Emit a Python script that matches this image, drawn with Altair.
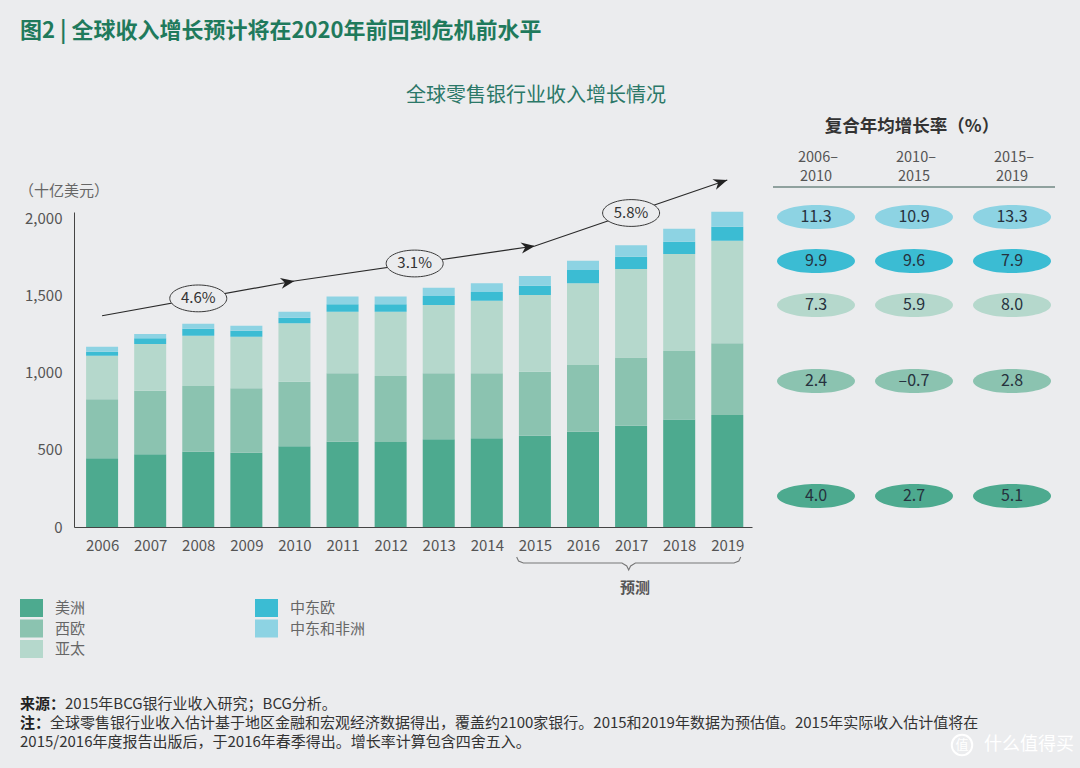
import math
import altair as alt
import pandas as pd

# ---------------- data ----------------
years = list(range(2006, 2020))
regions = ["美洲", "西欧", "亚太", "中东欧", "中东和非洲"]
americas = [445, 471, 488, 481, 523, 552, 550, 568, 574, 591, 617, 656, 697, 725]
w_europe = [382, 412, 425, 417, 418, 443, 428, 427, 421, 415, 432, 441, 443, 465]
asia_pac = [282, 302, 326, 334, 378, 399, 416, 443, 471, 496, 529, 574, 628, 664]
ce_europe = [26, 37, 45, 39, 36, 48, 48, 58, 56, 61, 86, 80, 80, 91]
mea = [32, 28, 33, 33, 39, 50, 50, 54, 56, 63, 61, 73, 84, 97]
series = [americas, w_europe, asia_pac, ce_europe, mea]
colors = ["#4DAA8F", "#8BC3B0", "#B5D8CC", "#3BBCD3", "#8DD3E3"]

trend_years = [2006, 2010, 2015, 2019]
trend_values = [1368, 1593, 1820, 2247]
trend_labels = ["4.6%", "3.1%", "5.8%"]

forecast_start, forecast_end = 2015, 2019

cagr_title = "复合年均增长率（%）"
cagr_periods = [("2006–", "2010"), ("2010–", "2015"), ("2015–", "2019")]
cagr_rows = ["中东和非洲", "中东欧", "亚太", "西欧", "美洲"]
cagr_values = [[11.3, 10.9, 13.3], [9.9, 9.6, 7.9], [7.3, 5.9, 8.0],
               [2.4, -0.7, 2.8], [4.0, 2.7, 5.1]]

title = "图2 | 全球收入增长预计将在2020年前回到危机前水平"
subtitle = "全球零售银行业收入增长情况"
unit_label = "（十亿美元）"
forecast_label = "预测"
y_ticks = [0, 500, 1000, 1500, 2000]
footer = [("来源：", "2015年BCG银行业收入研究；BCG分析。"),
          ("注：", "全球零售银行业收入估计基于地区金融和宏观经济数据得出，覆盖约2100家银行。2015和2019年数据为预估值。2015年实际收入估计值将在"),
          ("", "2015/2016年度报告出版后，于2016年春季得出。增长率计算包含四舍五入。")]

# ---------------- layout ----------------
FONT = "Noto Sans CJK SC"
BG = "#EBECEE"
PAD_L, PAD_T = 74, 212
W, H = 678, 315
X_DOM = [2005.52, 2019.41]
Y_DOM = [0, 2040]
PX_YEAR = W / (X_DOM[1] - X_DOM[0])
PX_UNIT = H / (Y_DOM[1] - Y_DOM[0])


def rx(px):
    return px - PAD_L


def ry(py):
    return py - PAD_T


xscale = alt.Scale(domain=X_DOM, nice=False, zero=False)
yscale = alt.Scale(domain=Y_DOM, nice=False)

# bars
rows = []
for i, reg in enumerate(regions):
    for y, v in zip(years, series[i]):
        rows.append({"year": y, "region": reg, "value": v, "order": i})
bars_df = pd.DataFrame(rows)

bars = alt.Chart(bars_df).mark_bar(size=32).encode(
    x=alt.X("year:Q", scale=xscale,
            axis=alt.Axis(values=years, format="d", title=None, ticks=False, grid=False,
                          labelFontSize=15, labelColor="#555", labelFont=FONT,
                          labelPadding=11, domainColor="#444", domainWidth=1,
                          labelFlush=False)),
    y=alt.Y("value:Q", stack="zero", scale=yscale,
            axis=alt.Axis(values=y_ticks, format=",.0f", title=None, ticks=False, grid=False,
                          labelFontSize=15, labelColor="#555", labelFont=FONT,
                          labelPadding=12, domainColor="#444", domainWidth=1)),
    color=alt.Color("region:N", scale=alt.Scale(domain=regions, range=colors), legend=None),
    order=alt.Order("order:Q", sort="ascending"),
)

# trend line + arrows + ellipse labels
trend_df = pd.DataFrame({"year": trend_years, "value": trend_values})
trend = alt.Chart(trend_df).mark_line(color="#2a2a2a", strokeWidth=1.2).encode(
    x=alt.X("year:Q", scale=xscale), y=alt.Y("value:Q", scale=yscale))

arr_rows, ell_rows = [], []
for k in range(1, len(trend_years)):
    dx = (trend_years[k] - trend_years[k - 1]) * PX_YEAR
    dy = (trend_values[k] - trend_values[k - 1]) * PX_UNIT
    ang = (360 - math.degrees(math.atan2(dy, dx))) % 360
    arr_rows.append({"year": trend_years[k], "value": trend_values[k], "angle": ang})
    ell_rows.append({"year": (trend_years[k] + trend_years[k - 1]) / 2,
                     "value": (trend_values[k] + trend_values[k - 1]) / 2,
                     "label": trend_labels[k - 1]})
arr_df = pd.DataFrame(arr_rows)
ell_df = pd.DataFrame(ell_rows)

ARROW = "M 0 0 L -2 -0.8 L -1.4 0 L -2 0.8 Z"
arrows = alt.Chart(arr_df).mark_point(shape=ARROW, filled=True, color="#222", size=190,
                                      opacity=1).encode(
    x=alt.X("year:Q", scale=xscale), y=alt.Y("value:Q", scale=yscale),
    angle=alt.Angle("angle:Q", scale=None))

ELL_SMALL = "M -1 0 A 1 0.47 0 1 0 1 0 A 1 0.47 0 1 0 -1 0 Z"
ellipses = alt.Chart(ell_df).mark_point(shape=ELL_SMALL, filled=True, fill=BG, stroke="#3a3a3a",
                                        strokeWidth=1, size=57 * 57, opacity=1).encode(
    x=alt.X("year:Q", scale=xscale), y=alt.Y("value:Q", scale=yscale))
ell_text = alt.Chart(ell_df).mark_text(font=FONT, fontSize=15, color="#333",
                                       baseline="middle").encode(
    x=alt.X("year:Q", scale=xscale), y=alt.Y("value:Q", scale=yscale), text="label:N")

# forecast brace
bl, br = forecast_start - 0.38, forecast_end + 0.28
bm = (bl + br) / 2
top_v, flat_v, tip_v = -30 / PX_UNIT, -36 / PX_UNIT, -43 / PX_UNIT
mid_v = -34 / PX_UNIT
brace_pts = [(bl, top_v), (bl + 0.04, mid_v), (bl + 0.14, flat_v), (bm - 0.14, flat_v),
             (bm - 0.04, -39 / PX_UNIT), (bm, tip_v), (bm + 0.04, -39 / PX_UNIT),
             (bm + 0.14, flat_v), (br - 0.14, flat_v), (br - 0.04, mid_v), (br, top_v)]
brace_df = pd.DataFrame(brace_pts, columns=["year", "value"])
brace = alt.Chart(brace_df).mark_line(color="#777", strokeWidth=1.1).encode(
    x=alt.X("year:Q", scale=xscale), y=alt.Y("value:Q", scale=yscale))


def px_text(df, **kw):
    return alt.Chart(df).mark_text(font=FONT, **kw).encode(
        x=alt.X("tx:Q", scale=None, axis=None),
        y=alt.Y("ty:Q", scale=None, axis=None),
        text="t:N")


def one(t, px, py):
    return pd.DataFrame({"t": [t], "tx": [rx(px)], "ty": [ry(py)]})


texts = [
    px_text(one(title, 20, 31), fontSize=22, fontWeight="bold", color="#1F7A5C",
            align="left", baseline="middle"),
    px_text(one(subtitle, 536, 96), fontSize=20, color="#2B7868", align="center",
            baseline="middle"),
    px_text(one(unit_label, 19, 191), fontSize=15, color="#666", align="left",
            baseline="middle"),
    px_text(one(forecast_label, 635, 588), fontSize=15, fontWeight="bold", color="#555",
            align="center", baseline="middle"),
    px_text(one(cagr_title, 912, 127), fontSize=17.5, fontWeight="bold", color="#333",
            align="center", baseline="middle"),
]

# CAGR table
COL_X = [816, 914, 1012]
ROW_Y = [217, 261, 305, 381, 496]
hdr_rows = []
for j, (a, b) in enumerate(cagr_periods):
    hdr_rows.append({"t": a, "tx": rx(COL_X[j] + 2), "ty": ry(158)})
    hdr_rows.append({"t": b, "tx": rx(COL_X[j]), "ty": ry(177)})
texts.append(px_text(pd.DataFrame(hdr_rows), fontSize=14.5, color="#555", align="center",
                     baseline="middle"))

rule_df = pd.DataFrame({"x1": [rx(773)], "x2": [rx(1055)], "y1": [ry(187)]})
table_rule = alt.Chart(rule_df).mark_rule(color="#35574F", strokeWidth=1.2).encode(
    x=alt.X("x1:Q", scale=None, axis=None), x2="x2:Q",
    y=alt.Y("y1:Q", scale=None, axis=None))

cell_rows = []
for i, reg in enumerate(cagr_rows):
    for j in range(3):
        v = cagr_values[i][j]
        cell_rows.append({"t": f"{v:.1f}".replace("-", "–"), "tx": rx(COL_X[j]),
                          "ty": ry(ROW_Y[i]), "fill": colors[regions.index(reg)]})
cell_df = pd.DataFrame(cell_rows)
ELL_BIG = "M -1 0 A 1 0.31 0 1 0 1 0 A 1 0.31 0 1 0 -1 0 Z"
cells = alt.Chart(cell_df).mark_point(shape=ELL_BIG, filled=True, size=78 * 78,
                                      opacity=1).encode(
    x=alt.X("tx:Q", scale=None, axis=None), y=alt.Y("ty:Q", scale=None, axis=None),
    color=alt.Color("fill:N", scale=None))
cell_text = px_text(cell_df, fontSize=16, color="#26323E", align="center", baseline="middle")

# custom legend (two columns)
leg_cols = [[0, 1, 2], [3, 4]]
LEG_X = [20, 255]
LEG_Y0, LEG_STEP, SQ_W, SQ_H = 599, 20.5, 23, 18
leg_rows = []
for c, idxs in enumerate(leg_cols):
    for r, idx in enumerate(idxs):
        y0 = LEG_Y0 + r * LEG_STEP
        leg_rows.append({"x1": rx(LEG_X[c]), "x2": rx(LEG_X[c] + SQ_W), "y1": ry(y0),
                         "y2": ry(y0 + SQ_H), "fill": colors[idx], "t": regions[idx],
                         "tx": rx(LEG_X[c] + 35), "ty": ry(y0 + SQ_H / 2)})
leg_df = pd.DataFrame(leg_rows)
leg_sq = alt.Chart(leg_df).mark_rect().encode(
    x=alt.X("x1:Q", scale=None, axis=None), x2="x2:Q",
    y=alt.Y("y1:Q", scale=None, axis=None), y2="y2:Q",
    color=alt.Color("fill:N", scale=None))
leg_txt = px_text(leg_df, fontSize=15, color="#666", align="left", baseline="middle")

# footer
FOOT_Y = [704, 723, 742]
FS = 15
bold_rows, reg_rows = [], []
for (b, r), fy in zip(footer, FOOT_Y):
    if b:
        bold_rows.append({"t": b, "tx": rx(20), "ty": ry(fy)})
    reg_rows.append({"t": r, "tx": rx(20 + FS * len(b)), "ty": ry(fy)})
texts.append(px_text(pd.DataFrame(bold_rows), fontSize=FS, fontWeight="bold", color="#222",
                     align="left", baseline="middle"))
texts.append(px_text(pd.DataFrame(reg_rows), fontSize=FS, color="#333", align="left",
                     baseline="middle"))

# watermark
wm_circle = alt.Chart(pd.DataFrame({"tx": [rx(962)], "ty": [ry(745)]})).mark_point(
    shape="circle", size=420, stroke="white", strokeWidth=2, filled=False, opacity=1).encode(
    x=alt.X("tx:Q", scale=None, axis=None), y=alt.Y("ty:Q", scale=None, axis=None))
texts.append(px_text(one("值", 962, 745), fontSize=13, color="white", align="center",
                     baseline="middle"))
texts.append(px_text(one("什么值得买", 984, 745), fontSize=18, color="white", align="left",
                     baseline="middle"))

chart = alt.layer(
    bars, trend, arrows, ellipses, ell_text, brace, table_rule, cells, cell_text,
    leg_sq, leg_txt, wm_circle, *texts
).properties(
    width=W, height=H,
    autosize=alt.AutoSizeParams(type="none"),
    padding={"left": PAD_L, "top": PAD_T, "right": 1080 - PAD_L - W,
             "bottom": 768 - PAD_T - H},
    background=BG,
).configure_view(strokeWidth=0)

chart.save("out.html", embed_options={"renderer": "svg", "actions": False})
